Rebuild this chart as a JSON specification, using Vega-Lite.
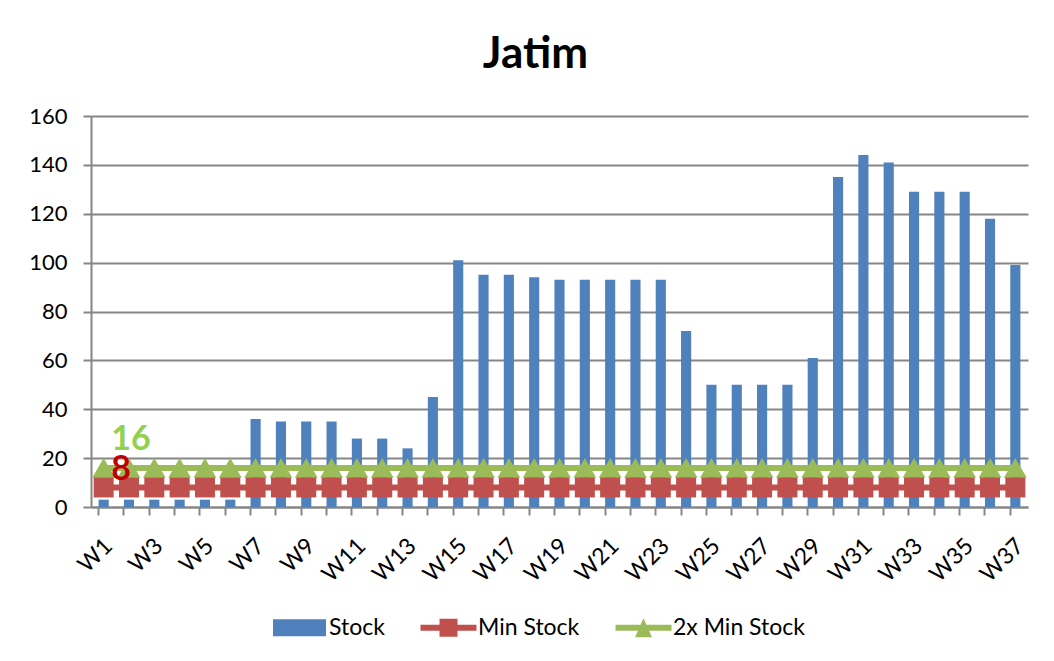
{
  "$schema": "https://vega.github.io/schema/vega-lite/v6.json",
  "autosize": "none",
  "width": 937,
  "height": 391,
  "padding": {"left": 91, "top": 116, "right": 26, "bottom": 154},
  "background": "white",
  "config": {
    "font": "Lato",
    "view": {"stroke": null},
    "axis": {"labelFont": "Lato", "labelColor": "#000000", "labelFontSize": 22}
  },
  "title": {
    "text": "Jatim",
    "font": "Lato",
    "fontSize": 44,
    "fontWeight": "bold",
    "color": "#000000",
    "anchor": "middle",
    "offset": 28,
    "dx": -24
  },
  "data": {
    "values": [
      {"w": "W1", "Stock": 3, "Min Stock": 8, "2x Min Stock": 16},
      {"w": "W2", "Stock": 3, "Min Stock": 8, "2x Min Stock": 16},
      {"w": "W3", "Stock": 3, "Min Stock": 8, "2x Min Stock": 16},
      {"w": "W4", "Stock": 3, "Min Stock": 8, "2x Min Stock": 16},
      {"w": "W5", "Stock": 3, "Min Stock": 8, "2x Min Stock": 16},
      {"w": "W6", "Stock": 3, "Min Stock": 8, "2x Min Stock": 16},
      {"w": "W7", "Stock": 36, "Min Stock": 8, "2x Min Stock": 16},
      {"w": "W8", "Stock": 35, "Min Stock": 8, "2x Min Stock": 16},
      {"w": "W9", "Stock": 35, "Min Stock": 8, "2x Min Stock": 16},
      {"w": "W10", "Stock": 35, "Min Stock": 8, "2x Min Stock": 16},
      {"w": "W11", "Stock": 28, "Min Stock": 8, "2x Min Stock": 16},
      {"w": "W12", "Stock": 28, "Min Stock": 8, "2x Min Stock": 16},
      {"w": "W13", "Stock": 24, "Min Stock": 8, "2x Min Stock": 16},
      {"w": "W14", "Stock": 45, "Min Stock": 8, "2x Min Stock": 16},
      {"w": "W15", "Stock": 101, "Min Stock": 8, "2x Min Stock": 16},
      {"w": "W16", "Stock": 95, "Min Stock": 8, "2x Min Stock": 16},
      {"w": "W17", "Stock": 95, "Min Stock": 8, "2x Min Stock": 16},
      {"w": "W18", "Stock": 94, "Min Stock": 8, "2x Min Stock": 16},
      {"w": "W19", "Stock": 93, "Min Stock": 8, "2x Min Stock": 16},
      {"w": "W20", "Stock": 93, "Min Stock": 8, "2x Min Stock": 16},
      {"w": "W21", "Stock": 93, "Min Stock": 8, "2x Min Stock": 16},
      {"w": "W22", "Stock": 93, "Min Stock": 8, "2x Min Stock": 16},
      {"w": "W23", "Stock": 93, "Min Stock": 8, "2x Min Stock": 16},
      {"w": "W24", "Stock": 72, "Min Stock": 8, "2x Min Stock": 16},
      {"w": "W25", "Stock": 50, "Min Stock": 8, "2x Min Stock": 16},
      {"w": "W26", "Stock": 50, "Min Stock": 8, "2x Min Stock": 16},
      {"w": "W27", "Stock": 50, "Min Stock": 8, "2x Min Stock": 16},
      {"w": "W28", "Stock": 50, "Min Stock": 8, "2x Min Stock": 16},
      {"w": "W29", "Stock": 61, "Min Stock": 8, "2x Min Stock": 16},
      {"w": "W30", "Stock": 135, "Min Stock": 8, "2x Min Stock": 16},
      {"w": "W31", "Stock": 144, "Min Stock": 8, "2x Min Stock": 16},
      {"w": "W32", "Stock": 141, "Min Stock": 8, "2x Min Stock": 16},
      {"w": "W33", "Stock": 129, "Min Stock": 8, "2x Min Stock": 16},
      {"w": "W34", "Stock": 129, "Min Stock": 8, "2x Min Stock": 16},
      {"w": "W35", "Stock": 129, "Min Stock": 8, "2x Min Stock": 16},
      {"w": "W36", "Stock": 118, "Min Stock": 8, "2x Min Stock": 16},
      {"w": "W37", "Stock": 99, "Min Stock": 8, "2x Min Stock": 16}
    ]
  },
  "transform": [
    {"fold": ["Stock", "Min Stock", "2x Min Stock"], "as": ["series", "value"]}
  ],
  "encoding": {
    "x": {
      "field": "w",
      "type": "ordinal",
      "sort": null,
      "title": null,
      "scale": {"paddingInner": 0.6, "paddingOuter": 0.3},
      "axis": {
        "bandPosition": 0,
        "labelOffset": 5,
        "labelAngle": -45,
        "labelAlign": "right",
        "labelBaseline": "middle",
        "labelPadding": 27,
        "labelFontSize": 23,
        "labelExpr": "toNumber(slice(datum.value, 1)) % 2 == 1 ? datum.value : ''",
        "domainColor": "#868686",
        "domainWidth": 2,
        "tickColor": "#868686",
        "tickWidth": 2,
        "tickSize": 8,
        "grid": false
      }
    },
    "y": {
      "field": "value",
      "type": "quantitative",
      "title": null,
      "scale": {"domain": [0, 160], "nice": false},
      "axis": {
        "values": [0, 20, 40, 60, 80, 100, 120, 140, 160],
        "labelPadding": 16,
        "domainColor": "#868686",
        "domainWidth": 2,
        "tickColor": "#868686",
        "tickWidth": 2,
        "tickSize": 8,
        "gridColor": "#868686",
        "gridWidth": 2
      }
    },
    "color": {
      "field": "series",
      "type": "nominal",
      "scale": {
        "domain": ["Stock", "Min Stock", "2x Min Stock"],
        "range": ["#4F81BD", "#C0504D", "#9BBB59"]
      },
      "legend": {
        "title": null,
        "orient": "none",
        "direction": "horizontal",
        "legendX": 197,
        "legendY": 500,
        "labelFont": "Lato",
        "labelFontSize": 23,
        "labelColor": "#000000",
        "labelOffset": 18,
        "columnPadding": 35,
        "symbolSize": 400,
        "encoding": {
          "symbols": {
            "shape": {
              "condition": [
                {"test": "datum.value == 'Stock'", "value": "M-2.65,-0.85H2.65V0.85H-2.65Z"},
                {"test": "datum.value == 'Min Stock'", "value": "M-2.8,-0.3H2.8V0.3H-2.8Z M-0.9,-0.9H0.9V0.9H-0.9Z"}
              ],
              "value": "M-2.8,-0.3H2.8V0.3H-2.8Z M0,-0.95L0.85,0.95H-0.85Z"
            },
            "fill": {
              "condition": [
                {"test": "datum.value == 'Stock'", "value": "#4F81BD"},
                {"test": "datum.value == 'Min Stock'", "value": "#C0504D"}
              ],
              "value": "#9BBB59"
            },
            "fillOpacity": {"value": 1},
            "opacity": {"value": 1},
            "strokeWidth": {"value": 0},
            "size": {"value": 400}
          }
        }
      }
    }
  },
  "layer": [
    {
      "transform": [{"filter": "datum.series == 'Stock'"}],
      "mark": {"type": "bar"}
    },
    {
      "transform": [{"filter": "datum.series == '2x Min Stock'"}],
      "mark": {"type": "line", "strokeWidth": 6, "strokeCap": "round"}
    },
    {
      "transform": [{"filter": "datum.series == '2x Min Stock'"}],
      "mark": {"type": "point", "shape": "triangle-up", "filled": true, "size": 520, "opacity": 1}
    },
    {
      "transform": [{"filter": "datum.series == 'Min Stock'"}],
      "mark": {"type": "line", "strokeWidth": 6, "strokeCap": "round"}
    },
    {
      "transform": [{"filter": "datum.series == 'Min Stock'"}],
      "mark": {"type": "point", "shape": "square", "filled": true, "size": 400, "opacity": 1}
    },
    {
      "transform": [{"filter": "datum.series == '2x Min Stock' && datum.w == 'W2'"}],
      "mark": {"type": "text", "font": "Lato", "fontSize": 34, "fontWeight": "bold", "dx": 2, "dy": -28},
      "encoding": {"text": {"field": "value", "type": "quantitative"}, "color": {"value": "#92D050"}}
    },
    {
      "transform": [{"filter": "datum.series == 'Min Stock' && datum.w == 'W2'"}],
      "mark": {"type": "text", "font": "Lato", "fontSize": 34, "fontWeight": "bold", "dx": -8, "dy": -17},
      "encoding": {"text": {"field": "value", "type": "quantitative"}, "color": {"value": "#C00000"}}
    }
  ]
}
